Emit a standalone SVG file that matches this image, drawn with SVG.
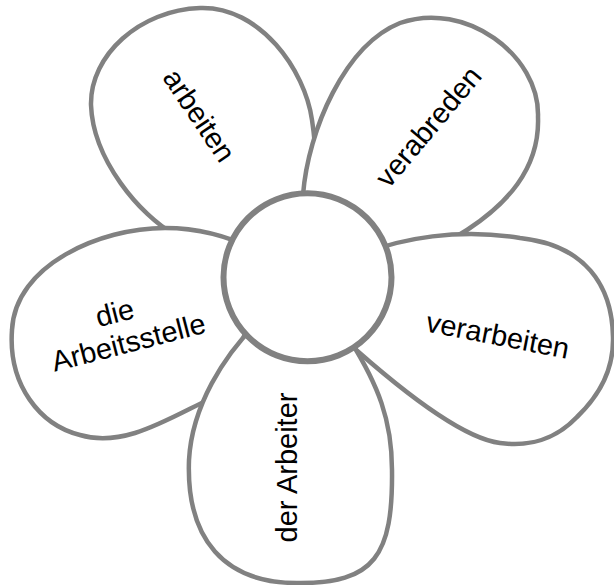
<svg xmlns="http://www.w3.org/2000/svg" width="614" height="585" viewBox="0 0 614 585">
<style>
.petal{fill:#ffffff;stroke:#818181;stroke-width:4.5;stroke-linejoin:round}
.core{fill:#ffffff;stroke:#818181;stroke-width:6}
.lbl{font-family:"Liberation Sans",Arial,sans-serif;font-size:29px;fill:#000000;text-anchor:middle}
</style>
<rect width="614" height="585" fill="#ffffff"/>
<g id="petal-arbeiten">
<path class="petal" d="M 290,245 C 250,255 200,250 175,235 C 140,215 93,160 91,105 C 90,55 140,10 200,8 C 260,6 305,70 312,120 C 318,160 320,200 290,245 Z"/>
<text class="lbl" transform="translate(191,121) rotate(56)">arbeiten</text>
</g>
<g id="petal-verabreden">
<path class="petal" d="M 303,195 C 308,130 345,45 400,23 C 465,0 540,55 538,117 C 540,170 505,205 467,230 C 440,248 400,262 360,262 Z"/>
<text class="lbl" transform="translate(436,133) rotate(-50)">verabreden</text>
</g>
<g id="petal-verarbeiten">
<path class="petal" d="M 360,255 C 400,238 460,228 520,238 C 585,245 612,285 613,337 C 614,370 600,395 577,417 C 555,440 530,447 500,443 C 460,438 395,385 345,340 Z"/>
<text class="lbl" transform="translate(496,345) rotate(11)">verarbeiten</text>
</g>
<g id="petal-arbeitsstelle">
<path class="petal" d="M 265,255 C 235,238 200,228 165,228 C 100,228 15,265 12,330 C 8,385 40,425 80,435 C 130,450 180,410 230,390 Z"/>
<g transform="translate(131,352) rotate(-14.5)">
<text class="lbl" x="-6" y="-32">die</text>
<text class="lbl" x="0" y="0">Arbeitsstelle</text>
</g>
</g>
<g id="petal-arbeiter">
<path class="petal" d="M 255,325 C 225,355 192,405 189,460 C 186,540 225,583 297,583 C 375,584 393,555 392,470 C 392,420 378,385 350,340 Z"/>
<text class="lbl" transform="translate(297,467.5) rotate(-90)">der Arbeiter</text>
</g>
<g id="center">
<circle class="core" cx="307.5" cy="277.3" r="84"/>
</g>
</svg>
